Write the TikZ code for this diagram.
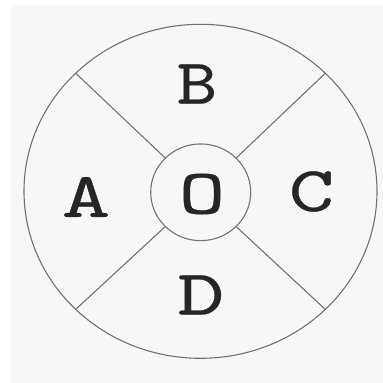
\documentclass[tikz,border=0pt]{standalone}
\usepackage{fontspec}
\usetikzlibrary{shapes.geometric}
\newfontfamily\lettfont{lmmono10-regular.otf}[FakeBold=0.4]
\definecolor{bggray}{HTML}{F7F7F7}
\definecolor{linegray}{HTML}{727272}
\newcommand{\wideletter}[2]{\scalebox{#1}[1]{#2}}
\begin{document}
\begin{tikzpicture}[x=1pt,y=-1pt,
  ring/.style={draw=linegray,line width=1.1pt,ellipse,inner sep=0pt,outer sep=0pt},
  spoke/.style={draw=linegray,line width=1.1pt},
  lett/.style={font=\lettfont\fontsize{64}{64}\selectfont,text=black!85,inner sep=0pt,anchor=center}]
\useasboundingbox (0,0) rectangle (383,383);
\fill[white] (0,0) rectangle (383,383);
\fill[bggray] (11,5) rectangle (383,383);
\node[ring,minimum width=353pt,minimum height=334pt] (outer) at (200.5,191.3) {};
\node[ring,minimum width=100pt,minimum height=96.7pt] (inner) at (200.7,192.3) {};
\draw[spoke] (inner.north west) -- (outer.north west);
\draw[spoke] (inner.north east) -- (outer.north east);
\draw[spoke] (inner.south west) -- (outer.south west);
\draw[spoke] (inner.south east) -- (outer.south east);
\node[lett] (B) at (197,84) {\wideletter{1.2}{B}};
\node[lett] (A) at (86,197) {\wideletter{1.45}{A}};
\node[lett] (C) at (311.5,191.5) {\wideletter{1.35}{C}};
\node[lett] (D) at (201,295) {\wideletter{1.4}{D}};
\node[lett] (O) at (202,194) {\wideletter{1.38}{O}};
\end{tikzpicture}
\end{document}
